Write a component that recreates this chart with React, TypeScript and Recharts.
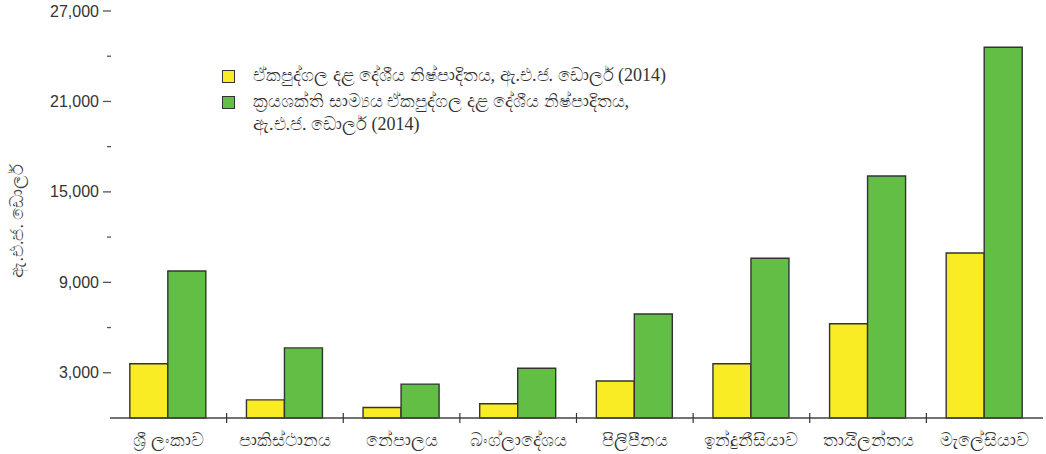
import { BarChart, Bar, XAxis, YAxis, Legend, Tooltip } from 'recharts';

const countries = ['ශ්‍රී ලංකාව', 'පාකිස්ථානය', 'නේපාලය', 'බංග්ලාදේශය', 'පිලිපීනය', 'ඉන්දුනීසියාව', 'තායිලන්තය', 'මැලේසියාව'];
const gdpPerCapita = [3600, 1200, 700, 950, 2450, 3600, 6250, 10950];
const pppPerCapita = [9750, 4650, 2250, 3300, 6900, 10600, 16050, 24600];
const yTicks = [3000, 6000, 9000, 12000, 15000, 18000, 21000, 24000, 27000];
const labelledTicks = [3000, 9000, 15000, 21000, 27000];

const gdpName = 'ඒකපුද්ගල දළ දේශීය නිෂ්පාදිතය, ඇ.එ.ජ. ඩොලර් (2014)';
const pppName = 'ක්‍රයශක්ති සාම්‍යය ඒකපුද්ගල දළ දේශීය නිෂ්පාදිතය,\nඇ.එ.ජ. ඩොලර් (2014)';
const yLabel = 'ඇ.එ.ජ. ඩොලර්';

const data = countries.map((c, i) => ({ country: c, gdp: gdpPerCapita[i], ppp: pppPerCapita[i] }));

const YTick = ({ x, y, payload }: any) => {
  const big = labelledTicks.includes(payload.value);
  return (
    <g>
      <line x1={big ? x - 7 : x - 3} x2={x + 1} y1={y} y2={y} stroke="#555" strokeWidth={1.3} />
      {big && (
        <text x={x - 11} y={y} textAnchor="end" dominantBaseline="central" fontSize={16} fill="#333"
          fontFamily="'Liberation Sans', Arial, sans-serif">
          {payload.value.toLocaleString('en-US')}
        </text>
      )}
    </g>
  );
};

const XTick = ({ x, y, payload, index }: any) => (
  <g>
    {index < countries.length - 1 && (
      <line x1={x + payload.offset} x2={x + payload.offset} y1={y - 5} y2={y + 5} stroke="#333" strokeWidth={1.2} />
    )}
    <text x={x} y={y + 22} textAnchor="middle" dominantBaseline="central" fontSize={18} fill="#333"
      fontFamily="'Liberation Serif', serif">
      {payload.value}
    </text>
  </g>
);

const YLabel = ({ viewBox }: any) => {
  const cx = viewBox.x + 17;
  const cy = viewBox.y + viewBox.height / 2 + 6;
  return (
    <text x={cx} y={cy} transform={`rotate(-90 ${cx} ${cy})`} textAnchor="middle" dominantBaseline="central"
      fontSize={18} fill="#444" fontFamily="'Liberation Serif', serif">
      {yLabel}
    </text>
  );
};

const LegendBox = ({ payload }: any) => (
  <div style={{ fontFamily: "'Liberation Serif', serif", fontSize: 18, color: '#333' }}>
    {payload.map((p: any) => (
      <div key={p.value} style={{ display: 'flex', alignItems: 'flex-start', marginBottom: 5 }}>
        <span style={{ width: 11, height: 11, background: p.color, border: '1.3px solid #333', marginTop: 4, marginRight: 18, flexShrink: 0 }} />
        <span style={{ whiteSpace: 'pre-line', lineHeight: '23px', marginTop: -2, textAlign: 'left' }}>{p.value}</span>
      </div>
    ))}
  </div>
);

export default function App() {
  return (
    <div style={{ position: 'absolute', left: 0, top: 0, background: '#fff' }}>
      <BarChart width={1046} height={454} data={data} margin={{ top: 11, right: 3, left: 0, bottom: 0 }}
        barCategoryGap="17%" barGap={0}>
        <XAxis dataKey="country" height={36} axisLine={{ stroke: '#444', strokeWidth: 1.5 }} tickLine={false}
          tickSize={0} tickMargin={0} tick={<XTick />} interval={0} />
        <YAxis width={110} domain={[0, 27000]} ticks={yTicks} axisLine={false} tickLine={false}
          tickSize={0} tickMargin={0} tick={<YTick />} interval={0}
          label={{ content: <YLabel /> }} />
        <Tooltip />
        <Legend verticalAlign="middle" align="center" layout="horizontal" content={<LegendBox />}
          wrapperStyle={{ top: 66, left: 222, width: 520 }} />
        <Bar dataKey="gdp" name={gdpName} fill="#F9EC24" stroke="#333" strokeWidth={1.4} isAnimationActive={false} />
        <Bar dataKey="ppp" name={pppName} fill="#63BE45" stroke="#333" strokeWidth={1.4} isAnimationActive={false} />
      </BarChart>
    </div>
  );
}
